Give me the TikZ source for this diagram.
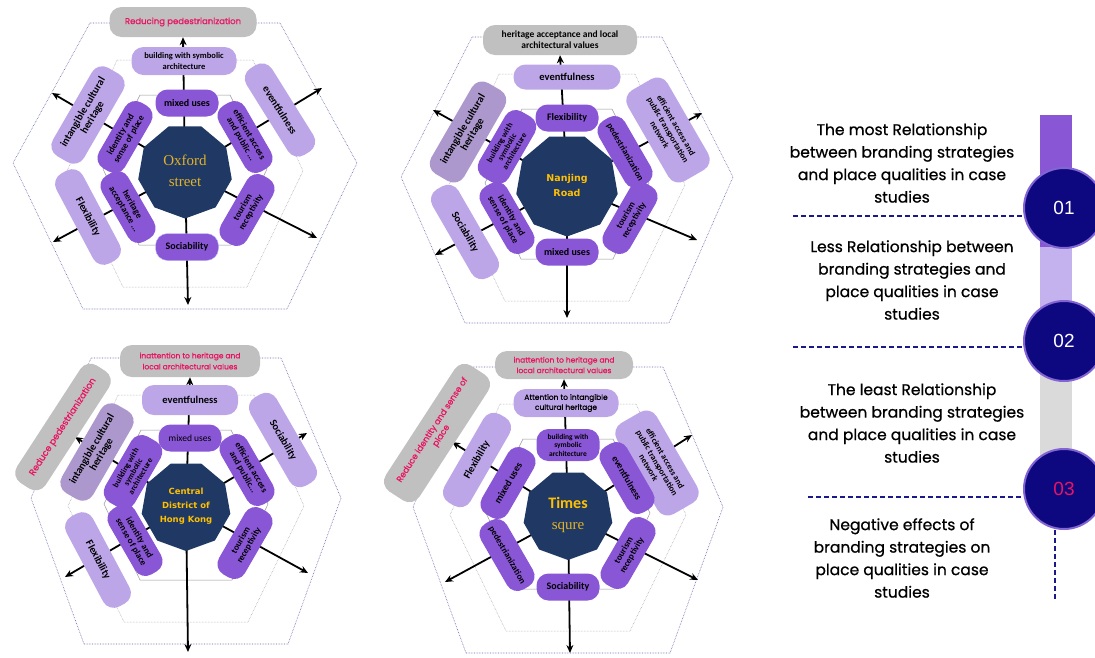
\documentclass[tikz,border=0pt]{standalone}
\usepackage{fontspec}
\usetikzlibrary{shapes.geometric,arrows.meta}
\newfontfamily\boxfont{Carlito}
\newfontfamily\comicfont{Poppins}[FakeBold=0.7]
\newfontfamily\hubsans{DejaVu Sans}
\newfontfamily\hubserif{Liberation Serif}
\newfontfamily\numfont{Liberation Sans}
\definecolor{qualdark}{RGB}{137,86,214}
\definecolor{qualpale}{RGB}{188,166,232}
\definecolor{qualdull}{RGB}{172,152,205}
\definecolor{neggray}{RGB}{192,192,192}
\definecolor{negpink}{RGB}{232,20,98}
\definecolor{hubnavy}{RGB}{31,56,100}
\definecolor{hubgold}{RGB}{255,192,0}
\definecolor{serifgold}{RGB}{226,178,40}
\definecolor{ringline}{RGB}{150,150,160}
\definecolor{dotline}{RGB}{95,95,170}
\definecolor{ballnavy}{RGB}{14,8,128}
\definecolor{ballrim}{RGB}{130,100,210}
\definecolor{legpale}{RGB}{196,178,238}
\definecolor{leggray}{RGB}{218,218,218}
\definecolor{legdash}{RGB}{25,25,140}
\pgfdeclarelayer{back}
\pgfsetlayers{back,main}

\newcommand\fsz[2]{\fontsize{#1}{#2}\selectfont}
% the three hexagons round a hub: centre x, centre y, reach of the outer one
\newcommand\hexrings[3]{%
  \begin{scope}[shift={(#1,#2)}]
    \draw[dotring] (-95,-148) -- (95,-148) -- (#3,-8) -- (102,138) -- (-102,138) -- (-#3,-8) -- cycle;
    \draw[midring] (-68,-111) -- (68,-111) -- (118,0) -- (62,116) -- (-62,116) -- (-118,0) -- cycle;
    \draw[ring] (-45,-76) -- (45,-76) -- (82,-2) -- (46,74) -- (-46,74) -- (-82,-2) -- cycle;
  \end{scope}}

\tikzset{
  hub/.style={regular polygon, regular polygon sides=9, shape border rotate=180,
    fill=hubnavy, minimum size=100pt, inner sep=0pt, align=center},
  pill/.style={rounded corners=12pt, align=center, inner sep=1pt,
    font=\boxfont\bfseries\fsz{9}{9.5}},
  inbox/.style={pill, fill=qualdark, minimum width=76pt, minimum height=30pt},
  topbox/.style={pill, fill=qualdark, minimum width=63pt, minimum height=27pt,
    font=\boxfont\bfseries\fsz{10}{10}},
  outbox/.style={pill, fill=qualpale, minimum width=102pt, minimum height=30pt,
    font=\boxfont\bfseries\fsz{10.5}{11}},
  negbox/.style={pill, fill=neggray, text=negpink, minimum height=30pt,
    font=\comicfont\fsz{8}{10.5}},
  ring/.style={draw=ringline, line width=0.5pt},
  midring/.style={draw=ringline, line width=0.5pt, densely dotted},
  dotring/.style={draw=dotline, line width=0.6pt, densely dotted},
  spoke/.style={-{Stealth[length=8pt,width=7pt]}, line width=1.8pt},
  legtext/.style={font=\comicfont\fsz{15.5}{22.5}, align=center},
  ball/.style={circle, fill=ballnavy, draw=ballrim, line width=2pt,
    minimum size=80pt, inner sep=0pt, text=white, font=\numfont\fsz{19}{19}},
  legdashed/.style={draw=legdash, line width=1.6pt, dash pattern=on 5pt off 3pt},
}

\begin{document}
\begin{tikzpicture}[x=1pt,y=-1pt]
\useasboundingbox (0,0) rectangle (1095,657);

% Oxford street
\node[hub, minimum size=95pt, font=\hubserif\fsz{15}{21}, text=serifgold] (ox) at (185,171) {Oxford\\street};
\node[negbox, minimum width=147pt, font=\comicfont\fsz{8.5}{10}] (ox-neg) at (183,22) {Reducing pedestrianization};
\node[outbox, minimum width=105pt, minimum height=28pt, font=\boxfont\bfseries\fsz{8.5}{10.5}] (ox-o1) at (184,61) {building with symbolic\\architecture};
\node[outbox, rotate=-58] (ox-o2) at (280,110) {eventfulness};
\node[outbox, rotate=60, minimum height=36pt] (ox-o3) at (88,115) {intangible cultural\\heritage};
\node[outbox, rotate=-62] (ox-o4) at (88,217) {Flexibility};
\node[topbox] (ox-i1) at (187,103) {mixed uses};
\node[inbox, rotate=-60] (ox-i2) at (245,137) {efficient access\\and public ...};
\node[inbox, rotate=60] (ox-i3) at (247,210) {tourism\\receptivity};
\node[topbox, draw=blue!25] (ox-i4) at (187,247) {Sociability};
\node[inbox, rotate=-60] (ox-i5) at (128,207) {heritage\\acceptance ...};
\node[inbox, rotate=60] (ox-i6) at (125,137) {identity and\\sense of place};
\begin{pgfonlayer}{back}
  \hexrings{185}{171}{172}
  \coordinate (ox-e1) at (322,88);
  \coordinate (ox-e2) at (317,238);
  \coordinate (ox-e3) at (188,305);
  \coordinate (ox-e4) at (53,242);
  \coordinate (ox-e5) at (52,93);
  \draw[spoke] (ox.center) -- (ox-neg.south);
  \foreach \e in {1,...,5} \draw[spoke] (ox.center) -- (ox-e\e);
\end{pgfonlayer}

% Nanjing Road
\node[hub, minimum size=103pt, font=\hubsans\bfseries\fsz{9.5}{15}, text=hubgold] (nj) at (567,185) {Nanjing\\Road};
\node[negbox, minimum width=154pt, text=black, font=\boxfont\bfseries\fsz{9.5}{11}] (nj-neg) at (560,40) {heritage acceptance and local\\architectural values};
\node[outbox, minimum width=107pt, minimum height=25pt] (nj-o1) at (567,77) {eventfulness};
\node[outbox, rotate=-60, minimum width=105pt, minimum height=46pt, font=\boxfont\bfseries\fsz{8.5}{9.5}] (nj-o2) at (668,130) {efficient access and\\public transportation\\network};
\node[outbox, rotate=60, fill=qualdull, minimum width=105pt, minimum height=38pt] (nj-o3) at (468,132) {intangible cultural\\heritage};
\node[outbox, rotate=-60] (nj-o4) at (465,232) {Sociability};
\node[topbox] (nj-i1) at (567,118) {Flexibility};
\node[inbox, rotate=-60] (nj-i2) at (625,152) {pedestrianization};
\node[inbox, rotate=60] (nj-i3) at (630,218) {tourism\\receptivity};
\node[topbox] (nj-i4) at (567,252) {mixed uses};
\node[inbox, rotate=-60] (nj-i5) at (507,218) {identity and\\sense of place};
\node[inbox, rotate=60, minimum height=34pt, font=\boxfont\bfseries\fsz{8}{8.5}] (nj-i6) at (507,147) {building with\\symbolic\\architecture};
\begin{pgfonlayer}{back}
  \hexrings{567}{185}{166}
  \coordinate (nj-e1) at (702,113);
  \coordinate (nj-e2) at (697,240);
  \coordinate (nj-e3) at (567,318);
  \coordinate (nj-e4) at (435,255);
  \coordinate (nj-e5) at (433,110);
  \draw[spoke] (nj.center) -- (nj-neg.south);
  \foreach \e in {1,...,5} \draw[spoke] (nj.center) -- (nj-e\e);
\end{pgfonlayer}

% Central District of Hong Kong
\node[hub, minimum size=90pt, font=\hubsans\bfseries\fsz{8.5}{14}, text=hubgold] (hk) at (186,506) {Central\\District of\\Hong Kong};
\node[negbox, minimum width=140pt, minimum height=32pt, font=\comicfont\fsz{7.5}{11}] (hk-neg) at (190,361) {inattention to heritage and\\local architectural values};
\node[negbox, rotate=57, minimum width=140pt, minimum height=34pt, font=\comicfont\fsz{9}{10}] (hk-neg2) at (63,427) {Reduce pedestrianization};
\node[outbox, minimum width=96pt] (hk-o1) at (190,400) {eventfulness};
\node[outbox, rotate=-60] (hk-o2) at (283,440) {Sociability};
\node[outbox, rotate=60, fill=qualdull, minimum height=36pt] (hk-o3) at (97,452) {intangible cultural\\heritage};
\node[outbox, rotate=-62] (hk-o4) at (98,560) {Flexibility};
\node[topbox, font=\boxfont\fsz{9.5}{10}] (hk-i1) at (190,438) {mixed uses};
\node[inbox, rotate=-60] (hk-i2) at (247,470) {efficient access\\and public...};
\node[inbox, rotate=60] (hk-i3) at (245,543) {tourism\\receptivity};
\node[inbox, rotate=-60] (hk-i5) at (135,540) {identity and\\sense of place};
\node[inbox, rotate=60, minimum height=34pt, font=\boxfont\bfseries\fsz{8}{8.5}] (hk-i6) at (133,472) {building with\\symbolic\\architecture};
\begin{pgfonlayer}{back}
  \hexrings{186}{506}{155}
  \coordinate (hk-e1) at (307,433);
  \coordinate (hk-e2) at (308,573);
  \coordinate (hk-e3) at (188,652);
  \coordinate (hk-e4) at (65,577);
  \coordinate (hk-e5) at (75,437);
  \draw[spoke] (hk.center) -- (hk-neg.south);
  \foreach \e in {1,...,5} \draw[spoke] (hk.center) -- (hk-e\e);
\end{pgfonlayer}

% Times squre
\node[hub, minimum size=90pt, font=\fsz{15}{21}, text=hubgold] (ts) at (568,515) {{\boxfont\bfseries\fsz{16}{21}Times}\\{\hubserif\color{serifgold}squre}};
\node[negbox, minimum width=138pt, minimum height=28pt, font=\comicfont\fsz{7.5}{10.5}] (ts-neg) at (564,365) {inattention to heritage and\\local architectural values};
\node[negbox, rotate=57, minimum width=150pt, minimum height=40pt, font=\comicfont\fsz{8.5}{10.5}] (ts-neg2) at (437,433) {Reduce identity and sense of\\place};
\node[outbox, minimum width=105pt, minimum height=28pt, font=\comicfont\fsz{7.5}{10}, text=black] (ts-o1) at (566,403) {Attention to intangible\\cultural heritage};
\node[outbox, rotate=-60, minimum width=105pt, minimum height=46pt, font=\boxfont\bfseries\fsz{8.5}{9.5}] (ts-o2) at (657,463) {efficient access and\\public transportation\\network};
\node[outbox, rotate=60] (ts-o3) at (477,460) {Flexibility};
\node[topbox, minimum height=32pt, font=\boxfont\bfseries\fsz{7.5}{8.5}] (ts-i1) at (568,445) {building with\\symbolic\\architecture};
\node[inbox, rotate=-60, font=\boxfont\bfseries\fsz{9.5}{10}] (ts-i2) at (627,478) {eventfulness};
\node[inbox, rotate=60] (ts-i3) at (628,553) {tourism\\receptivity};
\node[topbox] (ts-i4) at (568,587) {Sociability};
\node[inbox, rotate=-60] (ts-i5) at (507,555) {pedestrianization};
\node[inbox, rotate=60, font=\boxfont\bfseries\fsz{10}{10}] (ts-i6) at (508,483) {mixed uses};
\begin{pgfonlayer}{back}
  \hexrings{568}{515}{155}
  \coordinate (ts-e1) at (692,435);
  \coordinate (ts-e2) at (698,580);
  \coordinate (ts-e3) at (570,653);
  \coordinate (ts-e4) at (445,582);
  \coordinate (ts-e5) at (452,442);
  \draw[spoke] (ts.center) -- (ts-neg.south);
  \foreach \e in {1,...,5} \draw[spoke] (ts.center) -- (ts-e\e);
\end{pgfonlayer}

% legend
\fill[qualdark] (1040,115) rectangle (1072,247);
\fill[legpale] (1040,247) rectangle (1072,342);
\fill[leggray] (1040,342) rectangle (1072,490);
\node[ball] (b1) at (1064,208) {01};
\node[ball] (b2) at (1064,341) {02};
\node[ball, text=negpink] (b3) at (1064,489) {03};
\coordinate (d1) at (793,216);
\coordinate (d2) at (793,347);
\coordinate (d3) at (808,497);
\coordinate (d4) at (1055,600);
\draw[legdashed] (d1) -- (b1.west |- d1);
\draw[legdashed] (d2) -- (b2.west |- d2);
\draw[legdashed] (d3) -- (b3.west |- d3);
\draw[legdashed] (b3.south -| d4) -- (d4);
\node[legtext] (t1) at (902,163) {The most Relationship\\between branding strategies\\and place qualities in case\\studies};
\node[legtext] (t2) at (912,280) {Less Relationship between\\branding strategies and\\place qualities in case\\studies};
\node[legtext] (t3) at (912,423) {The least Relationship\\between branding strategies\\and place qualities in case\\studies};
\node[legtext] (t4) at (902,558) {Negative effects of\\branding strategies on\\place qualities in case\\studies};
\end{tikzpicture}
\end{document}
